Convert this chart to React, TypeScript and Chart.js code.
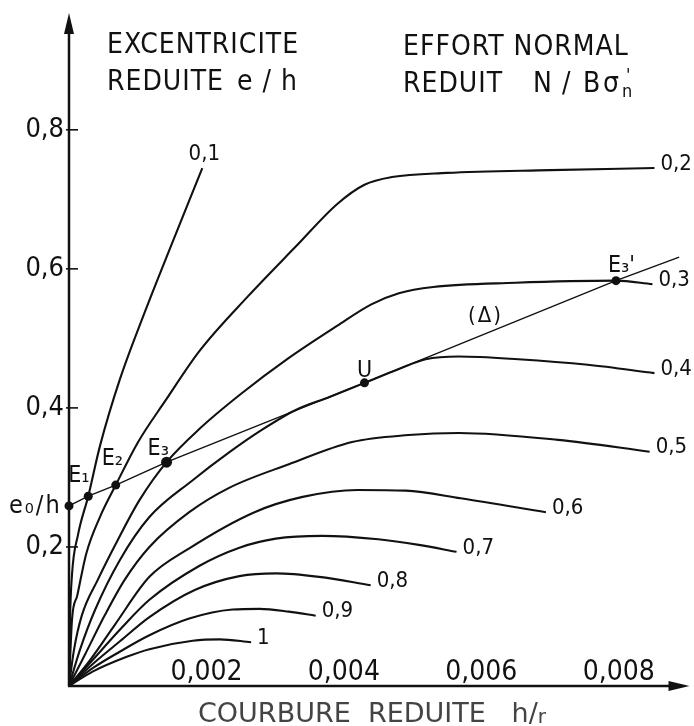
import { useEffect, useRef } from 'react';
import { Chart, registerables } from 'chart.js';

Chart.register(...registerables);

// Reduced normal force N/Bσn carried by each curve
const N_LABELS = ['0,1', '0,2', '0,3', '0,4', '0,5', '0,6', '0,7', '0,8', '0,9', '1'];

// Reduced curvature h/r (x) and reduced eccentricity e/h (y) along each curve
const N01_X = [0, 0.0000145, 0.0000435, 0.00013, 0.00028, 0.00045, 0.00074, 0.0011, 0.00146, 0.00194];
const N01_Y = [0, 0.095, 0.16, 0.217, 0.273, 0.345, 0.441, 0.537, 0.627, 0.745];
const N02_X = [0, 0.0000435, 0.00012, 0.00025, 0.00045, 0.00068, 0.001, 0.0014, 0.0019, 0.0026, 0.0033, 0.0039, 0.0043, 0.0047, 0.0055, 0.007, 0.00852];
const N02_Y = [0, 0.095, 0.13, 0.19, 0.243, 0.289, 0.35, 0.41, 0.482, 0.56, 0.632, 0.693, 0.721, 0.732, 0.738, 0.742, 0.745];
const N03_X = [0, 0.0000725, 0.000188, 0.00042, 0.00071, 0.00103, 0.00142, 0.0019, 0.0025, 0.0032, 0.0039, 0.0044, 0.0048, 0.0053, 0.0065, 0.00796, 0.00849];
const N03_Y = [0, 0.052, 0.102, 0.153, 0.21, 0.268, 0.322, 0.37, 0.42, 0.472, 0.518, 0.549, 0.565, 0.574, 0.58, 0.583, 0.578];
const N04_X = [0, 0.000159, 0.000377, 0.000739, 0.00117, 0.0018, 0.00233, 0.0028, 0.0033, 0.0038, 0.0043, 0.0048, 0.00519, 0.00567, 0.00654, 0.00755, 0.00852];
const N04_Y = [0, 0.052, 0.109, 0.181, 0.243, 0.296, 0.336, 0.368, 0.397, 0.416, 0.436, 0.456, 0.47, 0.474, 0.47, 0.462, 0.45];
const N05_X = [0, 0.000232, 0.000522, 0.000812, 0.00117, 0.00175, 0.00233, 0.0032, 0.00412, 0.00494, 0.00567, 0.00712, 0.00845];
const N05_Y = [0, 0.045, 0.102, 0.153, 0.2, 0.25, 0.285, 0.319, 0.351, 0.361, 0.364, 0.354, 0.337];
const N06_X = [0, 0.000304, 0.000667, 0.00117, 0.00175, 0.0027, 0.0034, 0.0042, 0.0049, 0.0057, 0.00694];
const N06_Y = [0, 0.037, 0.088, 0.157, 0.198, 0.25, 0.272, 0.282, 0.281, 0.27, 0.25];
const N07_X = [0, 0.00035, 0.00075, 0.00117, 0.0019, 0.00248, 0.00301, 0.00368, 0.0045, 0.00509, 0.00564];
const N07_Y = [0, 0.038, 0.082, 0.124, 0.173, 0.199, 0.212, 0.216, 0.211, 0.203, 0.193];
const N08_X = [0, 0.00035, 0.00075, 0.00117, 0.00183, 0.00248, 0.00301, 0.00364, 0.00439];
const N08_Y = [0, 0.032, 0.065, 0.099, 0.138, 0.158, 0.162, 0.157, 0.145];
const N09_X = [0, 0.00035, 0.00075, 0.00117, 0.00175, 0.00238, 0.00277, 0.0032, 0.00359];
const N09_Y = [0, 0.026, 0.05, 0.073, 0.097, 0.11, 0.111, 0.107, 0.101];
const N10_X = [0, 0.00035, 0.00084, 0.00117, 0.0018, 0.00219, 0.00265];
const N10_Y = [0, 0.021, 0.042, 0.053, 0.065, 0.067, 0.063];

const CURVE_X = [N01_X, N02_X, N03_X, N04_X, N05_X, N06_X, N07_X, N08_X, N09_X, N10_X];
const CURVE_Y = [N01_Y, N02_Y, N03_Y, N04_Y, N05_Y, N06_Y, N07_Y, N08_Y, N09_Y, N10_Y];

// Marked points on the (Δ) line: e0/h, E1, E2, E3, U, E'3
const MARK_LABELS = ['e₀/h', 'E₁', 'E₂', 'E₃', 'U', 'E₃\''];
const MARK_X = [0, 0.00028, 0.00068, 0.00142, 0.0043, 0.00796];
const MARK_Y = [0.259, 0.273, 0.289, 0.322, 0.436, 0.583];
// Far end of the (Δ) line
const DELTA_END_X = 0.00888;
const DELTA_END_Y = 0.617;

const X_TICKS = [0.002, 0.004, 0.006, 0.008];
const X_TICK_LABELS = ['0,002', '0,004', '0,006', '0,008'];
const Y_TICKS = [0.2, 0.4, 0.6, 0.8];
const Y_TICK_LABELS = ['0,2', '0,4', '0,6', '0,8'];

const X_MAX = 0.00903;
const Y_MAX = 0.968;

const INK = '#111';
const COND = '"DejaVu Sans Condensed", "DejaVu Sans", sans-serif';
const WIDE = '"DejaVu Sans", sans-serif';

// label placement around each marked point: [dx, dy, align]
const MARK_LABEL_OFFSETS: [number, number, CanvasTextAlign][] = [
  [-60, 7, 'left'],
  [-20, -14, 'left'],
  [-14, -20, 'left'],
  [-19, -7, 'left'],
  [0, -6, 'center'],
  [-8, -9, 'left'],
];

const paperPlugin = {
  id: 'paperAxes',
  afterDraw(chart: any) {
    const { ctx, chartArea: a, scales } = chart;
    const xs = scales.x;
    const ys = scales.y;
    ctx.save();
    ctx.strokeStyle = INK;
    ctx.fillStyle = INK;
    ctx.lineCap = 'butt';

    // axes with arrowheads
    ctx.lineWidth = 2.5;
    ctx.beginPath();
    ctx.moveTo(a.left, a.bottom);
    ctx.lineTo(a.left, a.top + 14);
    ctx.moveTo(a.left - 1, a.bottom);
    ctx.lineTo(a.right - 14, a.bottom);
    ctx.stroke();
    ctx.beginPath();
    ctx.moveTo(a.left, a.top);
    ctx.lineTo(a.left - 5, a.top + 21);
    ctx.lineTo(a.left + 5, a.top + 21);
    ctx.closePath();
    ctx.fill();
    ctx.beginPath();
    ctx.moveTo(a.right, a.bottom);
    ctx.lineTo(a.right - 21, a.bottom - 5);
    ctx.lineTo(a.right - 21, a.bottom + 5);
    ctx.closePath();
    ctx.fill();

    // y ticks and labels
    ctx.lineWidth = 1.6;
    ctx.font = `27px ${COND}`;
    ctx.textAlign = 'right';
    ctx.textBaseline = 'middle';
    Y_TICKS.forEach((v, i) => {
      const py = ys.getPixelForValue(v);
      ctx.beginPath();
      ctx.moveTo(a.left - 3, py);
      ctx.lineTo(a.left + 9, py);
      ctx.stroke();
      ctx.fillText(Y_TICK_LABELS[i], a.left - 5, py);
    });

    // x tick labels, inside the plot above the axis
    ctx.font = `28px ${COND}`;
    ctx.textAlign = 'center';
    ctx.textBaseline = 'alphabetic';
    X_TICKS.forEach((v, i) => {
      ctx.fillText(X_TICK_LABELS[i], xs.getPixelForValue(v), a.bottom - 6);
    });

    // headings
    ctx.textAlign = 'left';
    ctx.font = `28px ${COND}`;
    (ctx as any).letterSpacing = '1px';
    ctx.fillText('EXCENTRICITE', a.left + 38, a.top + 40);
    ctx.fillText('REDUITE', a.left + 38, a.top + 77);
    ctx.fillText('e / h', a.left + 168, a.top + 77);
    ctx.fillText('EFFORT NORMAL', a.left + 334, a.top + 42);
    ctx.fillText('REDUIT', a.left + 334, a.top + 79);
    (ctx as any).letterSpacing = '0px';
    ctx.fillText('N', a.left + 464, a.top + 79);
    ctx.fillText('/', a.left + 493, a.top + 79);
    ctx.fillText('B', a.left + 514, a.top + 79);
    ctx.fillText('σ', a.left + 534, a.top + 79);
    ctx.font = `18px ${COND}`;
    ctx.fillText('n', a.left + 553, a.top + 84);
    ctx.fillText('\'', a.left + 557, a.top + 68);

    // horizontal axis title below the plot
    ctx.fillStyle = '#444';
    ctx.font = `27px ${WIDE}`;
    const axisTitle = 'COURBURE  REDUITE   h/';
    const w = ctx.measureText(axisTitle).width;
    ctx.fillText(axisTitle, a.left + 129, a.bottom + 36);
    ctx.font = `20px ${WIDE}`;
    ctx.fillText('r', a.left + 129 + w, a.bottom + 37);
    ctx.fillStyle = INK;

    // curve labels at the end of each curve
    ctx.font = `22px ${COND}`;
    ctx.textBaseline = 'middle';
    CURVE_X.forEach((xsArr, i) => {
      const last = xsArr.length - 1;
      const px = xs.getPixelForValue(xsArr[last]);
      const py = ys.getPixelForValue(CURVE_Y[i][last]);
      if (i === 0) {
        ctx.textAlign = 'center';
        ctx.fillText(N_LABELS[i], px + 2, py - 14);
      } else {
        ctx.textAlign = 'left';
        ctx.fillText(N_LABELS[i], px + 6, py - 4);
      }
    });

    // (Δ) label along the line between U and E'3
    const lx = 0.00606;
    const t = (lx - MARK_X[4]) / (MARK_X[5] - MARK_X[4]);
    const ly = MARK_Y[4] + t * (MARK_Y[5] - MARK_Y[4]);
    ctx.textAlign = 'center';
    (ctx as any).letterSpacing = '2px';
    ctx.fillText('(Δ)', xs.getPixelForValue(lx), ys.getPixelForValue(ly) - 17);
    (ctx as any).letterSpacing = '0px';

    // names of the marked points
    ctx.textBaseline = 'alphabetic';
    MARK_LABELS.forEach((name, i) => {
      const px = xs.getPixelForValue(MARK_X[i]);
      const py = ys.getPixelForValue(MARK_Y[i]);
      const [dx, dy, align] = MARK_LABEL_OFFSETS[i];
      ctx.textAlign = align;
      if (i === 0) {
        ctx.font = `25px ${COND}`;
        (ctx as any).letterSpacing = '2px';
      } else {
        ctx.font = `23px ${COND}`;
        (ctx as any).letterSpacing = '0px';
      }
      ctx.fillText(name, px + dx, py + dy);
    });
    ctx.restore();
  },
};

export default function App() {
  const ref = useRef<HTMLCanvasElement>(null);

  useEffect(() => {
    const canvas = ref.current;
    if (!canvas) return;

    const curveSets = CURVE_X.map((xsArr, i) => ({
      label: 'N/Bσn = ' + N_LABELS[i],
      data: xsArr.map((x, j) => ({ x, y: CURVE_Y[i][j] })),
      borderColor: INK,
      borderWidth: 2.1,
      pointRadius: 0,
      fill: false,
      clip: false as any,
      cubicInterpolationMode: 'monotone' as const,
    }));

    const deltaSet = {
      label: '(Δ)',
      data: [
        ...MARK_X.map((x, j) => ({ x, y: MARK_Y[j] })),
        { x: DELTA_END_X, y: DELTA_END_Y },
      ],
      borderColor: INK,
      borderWidth: 1.4,
      pointRadius: 0,
      fill: false,
      clip: false as any,
      tension: 0,
    };

    const markSet = {
      label: 'points',
      data: MARK_X.map((x, j) => ({ x, y: MARK_Y[j] })),
      showLine: false,
      borderColor: INK,
      pointBackgroundColor: INK,
      pointBorderWidth: 0,
      pointRadius: (c: any) => (c.dataIndex === 3 ? 5.5 : 4.5),
      clip: false as any,
    };

    const chart = new Chart(canvas, {
      type: 'line',
      data: { datasets: [...curveSets, deltaSet, markSet] as any },
      options: {
        animation: false,
        responsive: true,
        maintainAspectRatio: false,
        devicePixelRatio: 1,
        events: [],
        layout: { padding: { left: 69, right: 2, top: 13, bottom: 40 } },
        plugins: { legend: { display: false }, tooltip: { enabled: false } },
        scales: {
          x: { type: 'linear', min: 0, max: X_MAX, display: false },
          y: { type: 'linear', min: 0, max: Y_MAX, display: false },
        },
      },
      plugins: [paperPlugin],
    });

    return () => chart.destroy();
  }, []);

  return (
    <div style={{ position: 'fixed', left: 0, top: 0, width: 694, height: 726, background: '#fff' }}>
      <canvas ref={ref} />
    </div>
  );
}
